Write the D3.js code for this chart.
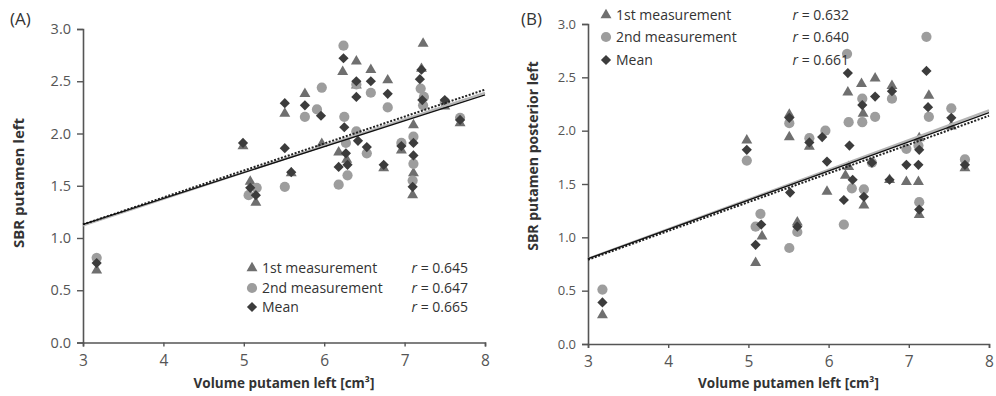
<!DOCTYPE html>
<html>
<head>
<meta charset="utf-8">
<script src="https://cdn.jsdelivr.net/npm/d3@7"></script>
<style>
  html, body { margin: 0; padding: 0; background: #fff; }
  svg { display: block; font-family: "Open Sans", sans-serif; }
</style>
</head>
<body>
<svg id="chart" width="996" height="396"></svg>
<script>
// ---- Panel A: SBR putamen left vs. volume putamen left ----
const firstA = [
  [3.17,0.69],[4.99,1.88],[5.08,1.54],[5.15,1.34],[5.51,2.19],[5.59,1.62],[5.76,2.38],
  [5.97,1.90],[6.18,1.82],[6.23,2.59],[6.28,1.75],[6.40,2.69],[6.40,2.46],[6.58,2.61],
  [6.74,1.67],[6.79,2.51],[6.96,1.84],[7.11,2.08],[7.11,1.62],[7.10,1.41],[7.21,2.62],
  [7.23,2.86],[7.50,2.26],[7.69,2.10]
];
const secondA = [
  [3.17,0.81],[5.06,1.41],[5.16,1.48],[5.51,1.49],[5.76,2.16],[5.91,2.23],[5.97,2.44],
  [6.18,1.51],[6.24,2.84],[6.25,2.16],[6.27,1.91],[6.29,1.60],[6.40,2.02],[6.40,2.47],
  [6.53,1.81],[6.58,2.39],[6.79,2.25],[6.96,1.91],[7.11,1.97],[7.11,1.71],[7.10,1.55],
  [7.20,2.43],[7.24,2.35],[7.23,2.27],[7.50,2.30],[7.69,2.15]
];
const meanA = [
  [3.17,0.76],[4.99,1.91],[5.08,1.48],[5.15,1.41],[5.51,2.29],[5.51,1.86],[5.59,1.63],
  [5.76,2.27],[5.96,2.17],[6.24,2.72],[6.25,2.06],[6.27,1.81],[6.18,1.68],[6.29,1.70],
  [6.42,1.93],[6.40,2.50],[6.40,2.35],[6.53,1.87],[6.58,2.50],[6.74,1.70],[6.79,2.38],
  [6.96,1.88],[7.11,1.91],[7.11,1.79],[7.10,1.49],[7.21,2.61],[7.19,2.52],[7.22,2.32],
  [7.50,2.32],[7.69,2.13]
];
// fitted lines (value at x = 3 and x = 8) for 1st, 2nd, mean
const fitStartA = [1.13, 1.12, 1.13];
const fitEndA   = [2.42, 2.39, 2.37];
const rA = ["0.645", "0.647", "0.665"];

// ---- Panel B: SBR putamen posterior left vs. volume putamen left ----
const firstB = [
  [3.18,0.27],[4.98,1.91],[5.09,0.76],[5.17,1.01],[5.51,2.15],[5.51,1.94],[5.61,1.14],
  [5.76,1.85],[5.98,1.43],[6.21,1.58],[6.24,2.36],[6.25,1.66],[6.41,2.44],[6.43,2.16],
  [6.44,1.30],[6.58,2.49],[6.76,1.54],[6.79,2.42],[6.97,1.52],[7.12,1.52],[7.13,1.93],
  [7.13,1.21],[7.25,2.33],[7.53,2.04],[7.70,1.65]
];
const secondB = [
  [3.18,0.51],[4.98,1.72],[5.09,1.10],[5.15,1.22],[5.51,2.07],[5.51,0.90],[5.61,1.05],
  [5.76,1.93],[5.96,2.00],[6.19,1.12],[6.23,2.72],[6.25,2.08],[6.29,1.46],[6.42,2.30],
  [6.42,2.08],[6.44,1.45],[6.54,1.70],[6.58,2.13],[6.79,2.30],[6.97,1.83],[7.12,1.86],
  [7.13,1.33],[7.22,2.88],[7.25,2.13],[7.53,2.21],[7.70,1.73]
];
const meanB = [
  [3.18,0.39],[4.98,1.82],[5.09,0.93],[5.16,1.12],[5.51,2.12],[5.52,1.42],[5.61,1.10],
  [5.76,1.89],[5.92,1.94],[5.98,1.71],[6.19,1.35],[6.24,2.54],[6.26,1.86],[6.30,1.54],
  [6.42,2.24],[6.44,1.38],[6.54,1.70],[6.58,2.32],[6.76,1.54],[6.79,2.37],[6.97,1.68],
  [7.13,1.82],[7.12,1.68],[7.13,1.26],[7.22,2.56],[7.24,2.22],[7.53,2.12],[7.70,1.68]
];
const fitStartB = [0.79, 0.80, 0.80];
const fitEndB   = [2.14, 2.19, 2.17];
const rB = ["0.632", "0.640", "0.661"];

const seriesNames = ["1st measurement", "2nd measurement", "Mean"];
const xTicks = [3, 4, 5, 6, 7, 8];
const yTicks = [0, 0.5, 1.0, 1.5, 2.0, 2.5, 3.0];

// ---- drawing ----
const svg = d3.select("#chart");
const colors = ["#6f6f6f", "#9d9d9d", "#3c3c3c"];
const symbolGen = [
  d3.symbol().type(d3.symbolTriangle).size(52),
  d3.symbol().type(d3.symbolCircle).size(82),
  d3.symbol().type(d3.symbolSquare).size(52)
];
const rotate = [0, 0, 45];

function drawPanel(cfg) {
  const x = d3.scaleLinear().domain([3, 8]).range(cfg.xr);
  const y = d3.scaleLinear().domain([0, 3]).range(cfg.yr);
  const g = svg.append("g");

  // axes
  const yAxis = d3.axisLeft(y).tickValues(yTicks).tickFormat(d3.format(".1f"))
    .tickSize(6).tickPadding(6);
  const xAxis = d3.axisBottom(x).tickValues(xTicks).tickFormat(d3.format("d"))
    .tickSize(4).tickPadding(8);
  const ya = g.append("g").attr("transform", `translate(${cfg.xr[0]},0)`).call(yAxis);
  const xa = g.append("g").attr("transform", `translate(0,${cfg.yr[0]})`).call(xAxis);
  [ya, xa].forEach(a => {
    a.select(".domain").attr("stroke", "#555").attr("stroke-width", 1.6);
    a.selectAll(".tick line").attr("stroke", "#555").attr("stroke-width", 1.4);
    a.selectAll("text").attr("fill", "#555").style("font-family", "Open Sans, sans-serif");
  });
  ya.selectAll("text").style("font-size", cfg.yTickFont + "px");
  xa.selectAll("text").style("font-size", cfg.xTickFont + "px");

  // points: triangles, circles, then diamonds on top
  cfg.series.forEach((pts, i) => {
    g.append("g").selectAll("path").data(pts).join("path")
      .attr("d", symbolGen[i])
      .attr("transform", d => `translate(${x(d[0])},${y(d[1])}) rotate(${rotate[i]})`)
      .attr("fill", colors[i]);
  });

  // regression lines
  const lineStyles = [
    { stroke: "#222", width: 2, dash: "2,1.6" },
    { stroke: "#b5b5b5", width: 2.2, dash: null },
    { stroke: "#111", width: 1.3, dash: null }
  ];
  [1, 0, 2].forEach(i => {
    const s = lineStyles[i];
    g.append("line")
      .attr("x1", x(3)).attr("y1", y(cfg.fitStart[i]))
      .attr("x2", x(8)).attr("y2", y(cfg.fitEnd[i]))
      .attr("stroke", s.stroke).attr("stroke-width", s.width)
      .attr("stroke-dasharray", s.dash);
  });

  // legend
  seriesNames.forEach((name, i) => {
    const ly = cfg.legendY[i];
    g.append("path").attr("d", symbolGen[i])
      .attr("transform", `translate(${cfg.legendX},${ly}) rotate(${rotate[i]})`)
      .attr("fill", colors[i]);
    g.append("text").attr("x", cfg.legendX + 10).attr("y", ly + 5)
      .attr("fill", "#333").style("font-size", "14px").text(name);
    const t = g.append("text").attr("x", cfg.rX).attr("y", ly + 5)
      .attr("text-anchor", "end").attr("fill", "#333").style("font-size", "14px");
    t.append("tspan").style("font-style", "italic").text("r");
    t.append("tspan").text(" = " + cfg.r[i]);
  });

  // axis titles
  g.append("text")
    .attr("x", (cfg.xr[0] + cfg.xr[1]) / 2).attr("y", 388)
    .attr("text-anchor", "middle").attr("fill", "#333")
    .style("font-size", "13.5px").style("font-weight", "bold")
    .text("Volume putamen left [cm³]");
  g.append("text")
    .attr("transform", `translate(${cfg.yTitleX},${cfg.yTitleY}) rotate(-90)`)
    .attr("text-anchor", "middle").attr("dy", "0.35em").attr("fill", "#333")
    .style("font-size", cfg.yTitleFont + "px").style("font-weight", "bold")
    .text(cfg.yTitle);

  // panel tag
  g.append("text").attr("x", cfg.tagX).attr("y", 25)
    .attr("fill", "#333").style("font-size", "17px").text(cfg.tag);
}

drawPanel({
  xr: [83, 485], yr: [342.5, 29],
  series: [firstA, secondA, meanA],
  fitStart: fitStartA, fitEnd: fitEndA, r: rA,
  legendX: 252, legendY: [268, 288, 307], rX: 468,
  yTitle: "SBR putamen left", yTitleX: 19, yTitleY: 183, yTitleFont: 15,
  yTickFont: 14.5, xTickFont: 15.5,
  tag: "(A)", tagX: 10
});

drawPanel({
  xr: [588, 989], yr: [344, 24],
  series: [firstB, secondB, meanB],
  fitStart: fitStartB, fitEnd: fitEndB, r: rB,
  legendX: 606, legendY: [15, 37, 60], rX: 849,
  yTitle: "SBR putamen posterior left", yTitleX: 533, yTitleY: 156, yTitleFont: 14,
  yTickFont: 13, xTickFont: 15.5,
  tag: "(B)", tagX: 521
});
</script>
</body>
</html>
